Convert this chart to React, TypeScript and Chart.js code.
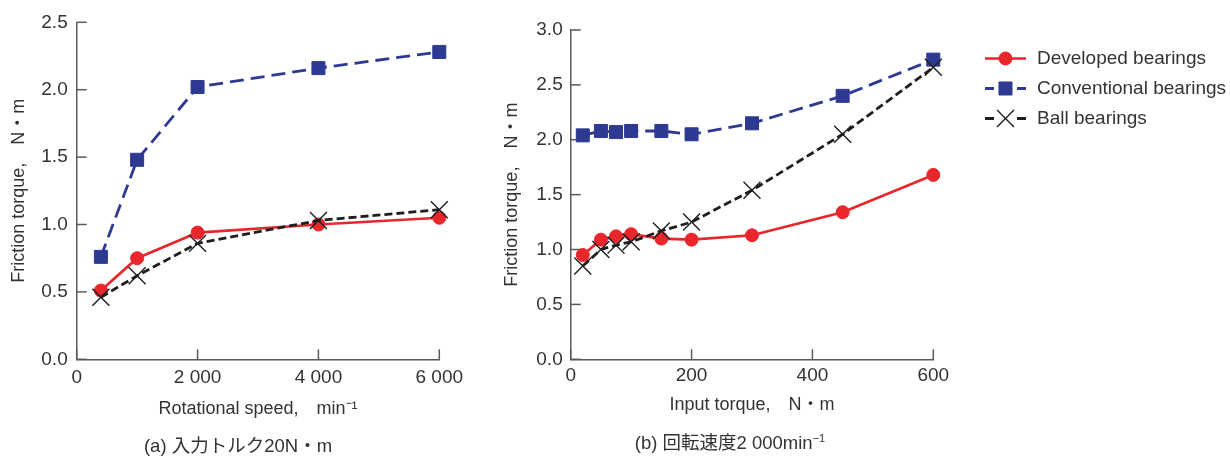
import React, { useEffect, useRef } from "react";
import { Chart, registerables } from "chart.js";
import { drawPoint } from "chart.js/helpers";

Chart.register(...registerables);

const FONT = '"Liberation Sans", "Noto Sans CJK JP", sans-serif';
const TEXT = "#333333";
const AXIS = "#5a5a5a";
const RED = "#e8262c";
const BLUE = "#2e3a92";
const BLACK = "#1e1e1e";

const seriesNames = ["Developed bearings", "Conventional bearings", "Ball bearings"];

// (a) input torque 20 N·m, x = rotational speed
const speedA = [400, 1000, 2000, 4000, 6000];
const developedA = [0.51, 0.75, 0.94, 1.0, 1.05];
const conventionalA = [0.76, 1.48, 2.02, 2.16, 2.28];
const ballA = [0.46, 0.62, 0.86, 1.03, 1.11];
const xTicksA = [0, 2000, 4000, 6000];
const yTicksA = [0, 0.5, 1.0, 1.5, 2.0, 2.5];

// (b) rotational speed 2 000 min-1, x = input torque
const torqueB = [20, 50, 75, 100, 150, 200, 300, 450, 600];
const developedB = [0.95, 1.09, 1.12, 1.14, 1.1, 1.09, 1.13, 1.34, 1.68];
const conventionalB = [2.04, 2.08, 2.07, 2.08, 2.08, 2.05, 2.15, 2.4, 2.73];
const ballB = [0.85, 1.0, 1.04, 1.07, 1.17, 1.25, 1.54, 2.05, 2.66];
const xTicksB = [0, 200, 400, 600];
const yTicksB = [0, 0.5, 1.0, 1.5, 2.0, 2.5, 3.0];

const yTitle = "Friction torque,\u3000N\u30FBm";
const xTitleA = "Rotational speed,\u3000min\u207B\u00B9";
const xTitleB = "Input torque,\u3000N\u30FBm";
const captionA = "(a) 入力トルク20N・m";
const captionB = "(b) 回転速度2 000min";

const fmtThousands = (v: number) => String(v).replace(/\B(?=(\d{3})+(?!\d))/g, " ");

const styles = [
  {
    borderColor: RED,
    backgroundColor: RED,
    borderWidth: 2.7,
    pointStyle: "circle",
    pointRadius: 6.5,
    pointBorderWidth: 1,
    pointBackgroundColor: RED,
    pointBorderColor: RED,
    order: 1,
  },
  {
    borderColor: BLUE,
    backgroundColor: BLUE,
    borderWidth: 2.8,
    borderDash: [14, 7],
    pointStyle: "rect",
    pointRadius: 9.2,
    pointBorderWidth: 1,
    pointBackgroundColor: BLUE,
    pointBorderColor: BLUE,
    order: 2,
  },
  {
    borderColor: BLACK,
    backgroundColor: BLACK,
    borderWidth: 2.8,
    borderDash: [8, 4],
    pointStyle: "crossRot",
    pointRadius: 12,
    pointBorderWidth: 1.4,
    pointBackgroundColor: BLACK,
    pointBorderColor: BLACK,
    order: 0,
  },
];

const TICK_LEN = 10;

const innerTicks = {
  id: "innerTicks",
  beforeDatasetsDraw(chart: any) {
    const { ctx, chartArea, scales } = chart;
    ctx.save();
    ctx.strokeStyle = AXIS;
    ctx.lineWidth = 1.5;
    scales.x.ticks.forEach((t: any) => {
      const px = scales.x.getPixelForValue(t.value);
      ctx.beginPath();
      ctx.moveTo(px, chartArea.bottom);
      ctx.lineTo(px, chartArea.bottom - TICK_LEN);
      ctx.stroke();
    });
    scales.y.ticks.forEach((t: any) => {
      const py = scales.y.getPixelForValue(t.value);
      ctx.beginPath();
      ctx.moveTo(chartArea.left, py);
      ctx.lineTo(chartArea.left + TICK_LEN, py);
      ctx.stroke();
    });
    ctx.restore();
  },
};

const LEG = { x0: 505, x1: 546, xt: 557, y0: 58.5, dy: 30, seg: 9 };

const sideLegend = {
  id: "sideLegend",
  afterDraw(chart: any) {
    const { ctx } = chart;
    chart.data.datasets.forEach((d: any, i: number) => {
      const y = LEG.y0 + i * LEG.dy;
      ctx.save();
      ctx.strokeStyle = d.borderColor;
      ctx.lineWidth = d.borderWidth;
      ctx.setLineDash([]);
      ctx.beginPath();
      if (d.borderDash) {
        ctx.moveTo(LEG.x0, y);
        ctx.lineTo(LEG.x0 + LEG.seg, y);
        ctx.moveTo(LEG.x1 - LEG.seg, y);
        ctx.lineTo(LEG.x1, y);
      } else {
        ctx.moveTo(LEG.x0, y);
        ctx.lineTo(LEG.x1, y);
      }
      ctx.stroke();
      ctx.fillStyle = d.pointBackgroundColor;
      ctx.strokeStyle = d.pointBorderColor;
      ctx.lineWidth = d.pointBorderWidth;
      drawPoint(
        ctx,
        { pointStyle: d.pointStyle, radius: d.pointRadius, rotation: 0, borderWidth: d.pointBorderWidth },
        (LEG.x0 + LEG.x1) / 2,
        y
      );
      ctx.fillStyle = TEXT;
      ctx.font = `19px ${FONT}`;
      ctx.textBaseline = "middle";
      ctx.textAlign = "left";
      ctx.fillText(d.label, LEG.xt, y);
      ctx.restore();
    });
  },
};

function makeConfig(p: any) {
  const datasets = [p.dev, p.conv, p.ball].map((ys: number[], i: number) => ({
    label: seriesNames[i],
    data: p.xs.map((x: number, j: number) => ({ x, y: ys[j] })),
    ...styles[i],
    tension: 0,
    clip: false,
    fill: false,
  }));
  return {
    type: "line",
    data: { datasets },
    options: {
      responsive: false,
      animation: false,
      events: [],
      layout: { padding: p.padding },
      plugins: { legend: { display: false }, tooltip: { enabled: false }, title: { display: false } },
      scales: {
        x: {
          type: "linear",
          min: p.xMin,
          max: p.xMax,
          afterBuildTicks: (s: any) => {
            s.ticks = p.xTicks.map((v: number) => ({ value: v }));
          },
          afterFit: (s: any) => {
            s.height = p.xHeight;
          },
          grid: { display: false, drawTicks: false, tickLength: 0 },
          border: { display: true, color: AXIS, width: 1.5 },
          ticks: {
            padding: p.xTickPad,
            color: TEXT,
            font: { family: FONT, size: 19 },
            maxRotation: 0,
            autoSkip: false,
            callback: (v: number) => fmtThousands(v),
          },
          title: {
            display: true,
            text: p.xTitle,
            color: TEXT,
            font: { family: FONT, size: 18 },
            padding: { top: 0, bottom: p.xTitlePad },
          },
        },
        y: {
          type: "linear",
          min: 0,
          max: p.yMax,
          afterBuildTicks: (s: any) => {
            s.ticks = p.yTicks.map((v: number) => ({ value: v }));
          },
          afterFit: (s: any) => {
            s.width = p.yWidth;
          },
          grid: { display: false, drawTicks: false, tickLength: 0 },
          border: { display: true, color: AXIS, width: 1.5 },
          ticks: {
            padding: p.yTickPad,
            color: TEXT,
            font: { family: FONT, size: 19 },
            autoSkip: false,
            callback: (v: number) => v.toFixed(1),
          },
          title: {
            display: true,
            text: yTitle,
            color: TEXT,
            font: { family: FONT, size: 18 },
            padding: { top: p.yTitlePad, bottom: 0 },
          },
        },
      },
    },
    plugins: p.plugins,
  } as any;
}

export default function App() {
  const refA = useRef<HTMLCanvasElement>(null);
  const refB = useRef<HTMLCanvasElement>(null);

  useEffect(() => {
    const a = new Chart(
      refA.current!,
      makeConfig({
        xs: speedA,
        dev: developedA,
        conv: conventionalA,
        ball: ballA,
        xMin: 0,
        xMax: 6000,
        xTicks: xTicksA,
        yMax: 2.5,
        yTicks: yTicksA,
        padding: { left: 0, top: 22.3, right: 40.7, bottom: 0 },
        yWidth: 76.7,
        xHeight: 98.7,
        yTitlePad: 8.4,
        xTitlePad: 38,
        xTickPad: 7,
        yTickPad: 9,
        xTitle: xTitleA,
        plugins: [innerTicks],
      })
    );
    const b = new Chart(
      refB.current!,
      makeConfig({
        xs: torqueB,
        dev: developedB,
        conv: conventionalB,
        ball: ballB,
        xMin: 0,
        xMax: 600,
        xTicks: xTicksB,
        yMax: 3.0,
        yTicks: yTicksB,
        padding: { left: 0, top: 30, right: 296.7, bottom: 0 },
        yWidth: 90.7,
        xHeight: 98.7,
        yTitlePad: 21.7,
        xTitlePad: 42,
        xTickPad: 5,
        yTickPad: 8,
        xTitle: xTitleB,
        plugins: [innerTicks, sideLegend],
      })
    );
    return () => {
      a.destroy();
      b.destroy();
    };
  }, []);

  const capStyle: React.CSSProperties = {
    position: "absolute",
    textAlign: "center",
    fontSize: 18.5,
    lineHeight: "22px",
    color: TEXT,
    whiteSpace: "nowrap",
  };

  return (
    <div
      style={{
        position: "absolute",
        left: 0,
        top: 0,
        width: 1230,
        height: 458,
        background: "#ffffff",
        fontFamily: FONT,
        overflow: "hidden",
      }}
    >
      <canvas
        ref={refA}
        width={480}
        height={458}
        style={{ position: "absolute", left: 0, top: 0, width: 480, height: 458 }}
      />
      <canvas
        ref={refB}
        width={750}
        height={458}
        style={{ position: "absolute", left: 480, top: 0, width: 750, height: 458 }}
      />
      <div style={{ ...capStyle, left: 0, width: 476, top: 435 }}>{captionA}</div>
      <div style={{ ...capStyle, left: 530, width: 400, top: 432 }}>
        {captionB}
        <sup style={{ fontSize: 11, verticalAlign: "top", lineHeight: "12px" }}>−1</sup>
      </div>
    </div>
  );
}
